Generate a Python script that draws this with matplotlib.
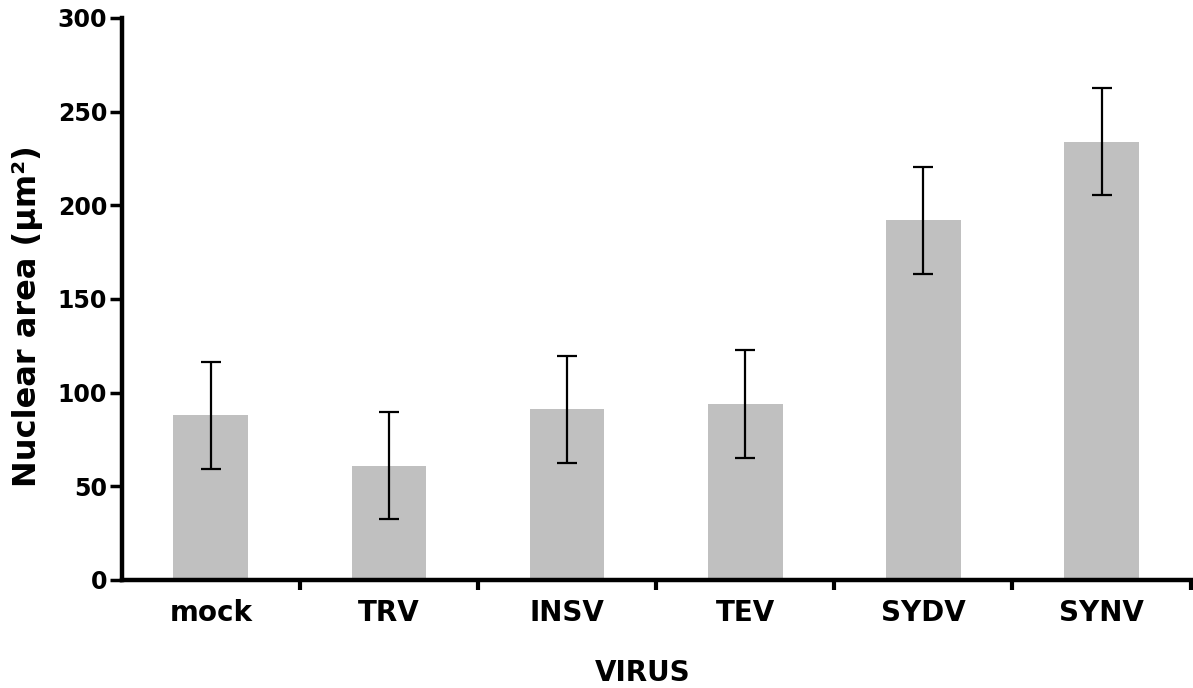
import matplotlib
matplotlib.use("Agg")
import matplotlib.pyplot as plt
import numpy as np

viruses = ["mock", "TRV", "INSV", "TEV", "SYDV", "SYNV"]
area = [88, 61, 91, 94, 192, 234]
err = [28.5, 28.5, 28.5, 29, 28.5, 28.5]
yticks = [0, 50, 100, 150, 200, 250, 300]

plt.rcParams["font.family"] = ["DejaVu Sans"]
plt.rcParams["font.weight"] = "bold"

fig = plt.figure(figsize=(11.93, 6.88), dpi=100)
ax = fig.add_axes([0.102, 0.157, 0.896, 0.817])

x = np.arange(len(viruses))
ax.bar(x, area, width=0.42, color="#c0c0c0", zorder=1)
ax.errorbar(x, area, yerr=err, fmt="none", ecolor="black", elinewidth=1.6,
            capsize=7.5, capthick=1.6, zorder=2)

ax.set_xlim(-0.5, len(viruses) - 0.5)
ax.set_ylim(0, 300)
ax.set_yticks(yticks)
ax.set_yticklabels([str(t) for t in yticks], fontsize=17, fontweight="bold")
ax.set_xticks(x)
ax.set_xticklabels(viruses, fontsize=20, fontweight="bold")
ax.set_xticks(x + 0.5, minor=True)
ax.tick_params(axis="x", which="major", length=0, pad=14)
ax.tick_params(axis="x", which="minor", length=7, width=3, direction="out")
ax.tick_params(axis="y", length=9, width=2.5, direction="out", pad=1.5)

for s in ["top", "right"]:
    ax.spines[s].set_visible(False)
for s in ["left", "bottom"]:
    ax.spines[s].set_linewidth(3.2)

fig.text(28 / 1193, 1 - 316 / 688, "Nuclear area (μm²)", rotation=90,
         ha="center", va="center", fontsize=23, fontweight="bold")
fig.text(643 / 1193, 1 - 673 / 688, "VIRUS", ha="center", va="center",
         fontsize=20, fontweight="bold")

fig.savefig("out.png", dpi=100)
